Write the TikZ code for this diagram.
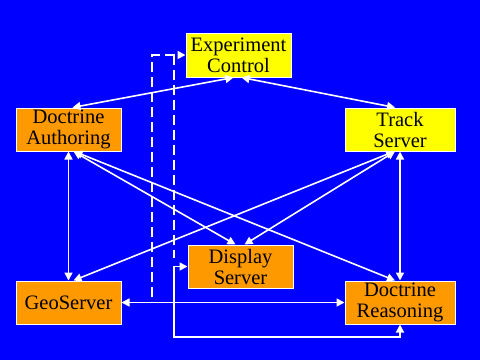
\documentclass[tikz,border=0pt]{standalone}
\usepackage{fontspec}
\setmainfont{Liberation Serif}
\usetikzlibrary{arrows.meta}
\definecolor{bgblue}{RGB}{0,0,255}
\definecolor{boxyellow}{RGB}{255,255,0}
\definecolor{boxorange}{RGB}{255,153,0}
\begin{document}
\begin{tikzpicture}[x=1pt,y=-1pt,
  box/.style={draw=white,line width=1pt,inner sep=0pt,align=center,
    minimum height=43pt,font=\fontsize{20.5}{21}\selectfont,text=black},
  ybox/.style={box,fill=boxyellow},
  obox/.style={box,fill=boxorange},
  conn/.style={draw=white,line width=1.6pt,{Triangle[length=8pt,width=8pt]}-{Triangle[length=8pt,width=8pt]}},
  dconn/.style={draw=white,line width=1.8pt,dash pattern=on 10pt off 5pt}]
\fill[bgblue] (0,0) rectangle (480,360);
\useasboundingbox (0,0) rectangle (480,360);
\node[ybox,minimum width=105pt,minimum height=44pt] (ec) at (238.5,55) {Experiment\\Control};
\node[obox,minimum width=105pt] (da) at (68.5,129.5) {Doctrine\\Authoring};
\node[ybox,minimum width=110pt] (ts) at (400,129.5) {Track\\Server};
\node[obox,minimum width=105pt] (ds) at (240.5,266.5) {Display\\Server};
\node[obox,minimum width=105pt] (gs) at (68.5,302.5) {GeoServer};
\node[obox,minimum width=110pt] (dr) at (400,302.5) {Doctrine\\Reasoning};
\coordinate (d1) at (152,297);
\coordinate (d2) at (174,55);
\coordinate (d3) at (174,258);
\coordinate (c1) at (174,337);
% dashed lines
\draw[dconn,-{Triangle[length=8pt,width=8pt]}] (d1) |- (ec.west);
\draw[dconn] (d2) -- (d3);
% solid connectors
\draw[conn] ([xshift=-5]ec.south) -- ([xshift=4]da.north);
\draw[conn] ([xshift=3]ec.south) -- ([xshift=-5]ts.north);
\draw[conn] (da.south) -- (gs.north);
\draw[conn] (ts.south) -- (dr.north);
\draw[conn] ([xshift=5]da.south) -- ([xshift=-5]ds.north);
\draw[conn] ([xshift=6]da.south) -- ([xshift=-5]dr.north);
\draw[conn] ([xshift=-5]ts.south) -- ([xshift=4]ds.north);
\draw[conn] ([xshift=-6]ts.south) -- ([xshift=5]gs.north);
\draw[conn] (gs.east) -- (dr.west);
\draw[conn] (ds.west) -| (c1) -| (dr.south);
\end{tikzpicture}
\end{document}
